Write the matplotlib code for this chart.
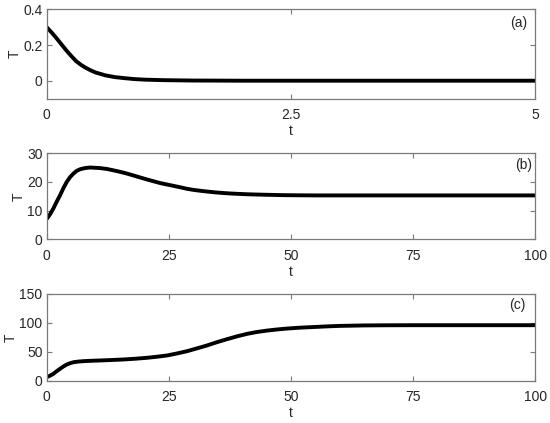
import matplotlib
matplotlib.use("Agg")
import matplotlib.pyplot as plt

plt.rcParams['font.family'] = ['Liberation Sans', 'DejaVu Sans']

# Panel (a)
t_a = [0, 0.05, 0.1, 0.15, 0.2, 0.25, 0.3, 0.35, 0.4, 0.45, 0.5, 0.6, 0.7, 0.8, 0.9, 1.0, 1.2, 1.5, 2.0, 5.0]
T_a = [0.30, 0.27, 0.238, 0.204, 0.17, 0.139, 0.11, 0.089, 0.072, 0.058, 0.046, 0.030, 0.020, 0.014, 0.009, 0.006, 0.003, 0.001, 0.0, 0.0]

# Panel (b)
t_b = [0, 0.7, 1.37, 2.0, 2.74, 3.4, 4.1, 4.8, 5.47, 6.1, 6.84, 7.8, 8.9, 10.9, 12.3, 13.7, 15.0, 16.4, 17.8, 19.2, 20.5, 21.9, 23.2,
       24.6, 26.0, 27.4, 28.7, 30.1, 31.5, 32.8, 34.2, 35.6, 37.3, 39, 41, 43, 45.5, 48, 51, 55, 100]
T_b = [7.1, 8.8, 10.8, 13.0, 15.4, 17.8, 20.0, 21.7, 22.9, 23.8, 24.4, 24.8, 25.0, 24.8, 24.5, 24.0, 23.5, 22.9, 22.2, 21.5, 20.85, 20.2, 19.6,
       19.1, 18.6, 18.1, 17.6, 17.2, 16.9, 16.65, 16.4, 16.2, 16.0, 15.85, 15.7, 15.6, 15.5, 15.4, 15.35, 15.3, 15.3]

# Panel (c)
t_c = [0, 0.7, 1.37, 2.0, 2.74, 3.4, 4.1, 4.8, 5.5, 6.5, 7.5, 9.0, 10.9, 13.3, 15.7, 18.1, 20.5, 22.5, 24.6, 26.6, 28.7, 30.7, 32.8,
       34.8, 36.9, 38.9, 41, 43, 45.1, 47.1, 49.2, 52, 55, 57.5, 60, 65, 70, 75, 100]
T_c = [6.2, 8.8, 12, 16.2, 20.7, 24.6, 28, 30.3, 32, 33.1, 33.8, 34.4, 35, 35.8, 36.7, 38.0, 39.6, 41.4, 43.6, 47.0, 51, 55.8, 60.9,
       66.5, 71.8, 76.6, 81, 84.2, 86.7, 88.6, 90.2, 91.8, 93, 94.0, 94.8, 95.6, 95.9, 96, 96]

panels = [
    dict(t=t_a, T=T_a, xlim=(0, 5), ylim=(-0.1, 0.4), xt=[0, 2.5, 5], xtl=['0', '2.5', '5'],
         yt=[0, 0.2, 0.4], ytl=['0', '0.2', '0.4'], lab='(a)', rect=[0.085, 0.767, 0.888, 0.211], lx=0.966, ly=0.85),
    dict(t=t_b, T=T_b, xlim=(0, 100), ylim=(0, 30), xt=[0, 25, 50, 75, 100], xtl=['0', '25', '50', '75', '100'],
         yt=[0, 10, 20, 30], ytl=['0', '10', '20', '30'], lab='(b)', rect=[0.085, 0.434, 0.888, 0.204], lx=0.976, ly=0.86),
    dict(t=t_c, T=T_c, xlim=(0, 100), ylim=(0, 150), xt=[0, 25, 50, 75, 100], xtl=['0', '25', '50', '75', '100'],
         yt=[0, 50, 100, 150], ytl=['0', '50', '100', '150'], lab='(c)', rect=[0.085, 0.100, 0.888, 0.205], lx=0.964, ly=0.87),
]

fig = plt.figure(figsize=(5.5, 4.23), dpi=100)
spine_col = '#7a7a7a'
txt_col = '#262626'
for p in panels:
    ax = fig.add_axes(p['rect'])
    ax.plot(p['t'], p['T'], color='black', lw=2.8, solid_capstyle='butt', solid_joinstyle='round')
    ax.set_xlim(*p['xlim'])
    ax.set_ylim(*p['ylim'])
    ax.set_xticks(p['xt'])
    ax.set_xticklabels(p['xtl'])
    ax.set_yticks(p['yt'])
    ax.set_yticklabels(p['ytl'])
    ax.tick_params(direction='in', length=3.6, width=0.8, color=spine_col, top=True, right=True,
                   labelsize=10, labelcolor=txt_col)
    ax.tick_params(axis='x', pad=7)
    ax.tick_params(axis='y', pad=3)
    for s in ax.spines.values():
        s.set_color(spine_col)
        s.set_linewidth(0.9)
    ax.set_xlabel('t', fontsize=10, color=txt_col, labelpad=1)
    ax.set_ylabel('T', fontsize=10, color=txt_col, labelpad=1)
    ax.text(p['lx'], p['ly'], p['lab'], transform=ax.transAxes, ha='center', va='center',
            fontsize=10, color=txt_col)

fig.savefig('out.png', dpi=100)
